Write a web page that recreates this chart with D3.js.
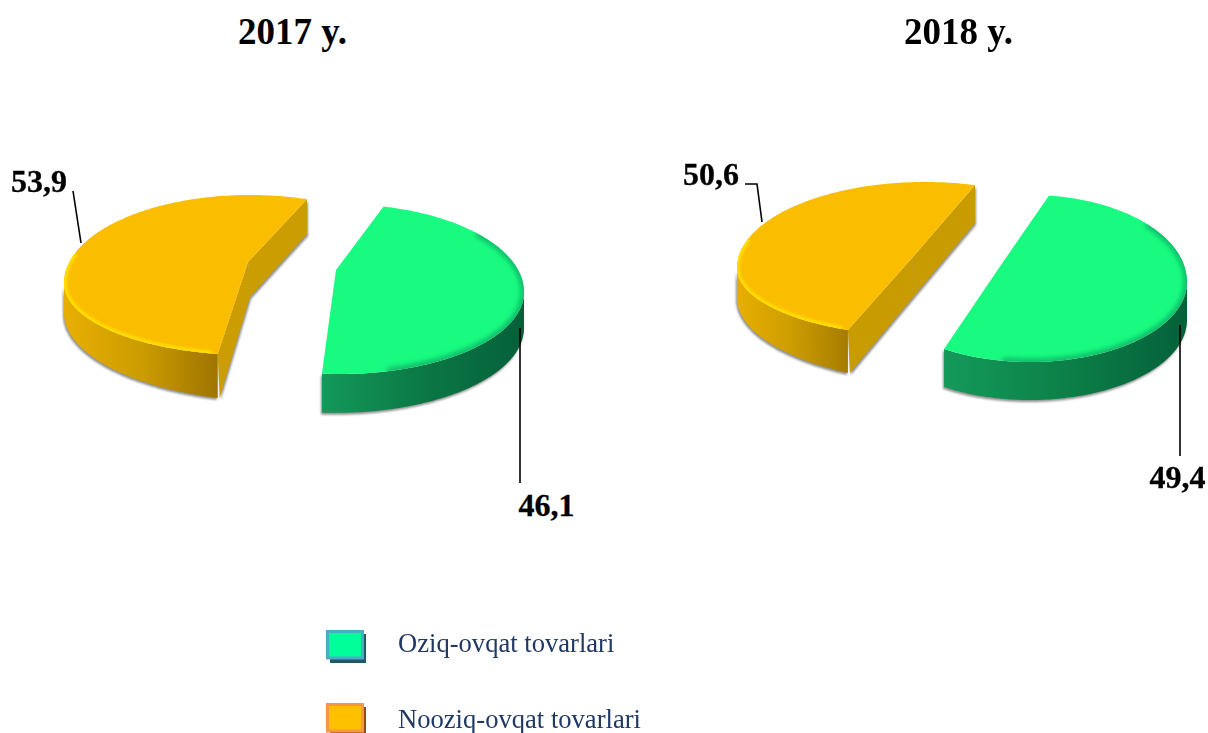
<!DOCTYPE html>
<html><head><meta charset="utf-8">
<script src="https://cdn.jsdelivr.net/npm/d3@7/dist/d3.min.js"></script>
<style>html,body{margin:0;background:#fff}svg{display:block}</style></head>
<body><svg id="c" width="1208" height="733"></svg>
<script>
const categories = ["Oziq-ovqat tovarlari", "Nooziq-ovqat tovarlari"];
const years = ["2017 y.", "2018 y."];
const values2017 = [46.1, 53.9];
const values2018 = [49.4, 50.6];

const deg = Math.PI / 180;
const fmt = d3.formatLocale({decimal: ",", thousands: " ", grouping: [3], currency: ["", ""]}).format(".1f");
const serif = '"Liberation Serif","Times New Roman",serif';
const svg = d3.select("#c");
const defs = svg.append("defs");
defs.append("filter").attr("id", "b3").attr("x", "-20%").attr("y", "-20%").attr("width", "140%").attr("height", "140%")
  .append("feGaussianBlur").attr("stdDeviation", 2.4);
defs.append("filter").attr("id", "b1").attr("x", "-20%").attr("y", "-20%").attr("width", "140%").attr("height", "140%")
  .append("feGaussianBlur").attr("stdDeviation", 1.0);

/* Picture-space layout of each exploded slice (perspective of the original) */
const layouts = [
  { title: {x: 292.5, y: 44},
    slices: [
      {fill: "#19FA80", wall: ["#14995B", "#0B7845", "#05603A"], cx: 340, cy: 292, rx: 184, ryUp: 88, ryDown: 82, rot: 13.7, k: 1.036, apex: [336, 270],
       depthCorner: 39, depthSide: 36, bevel: {color: "#10B266", from: 48, to: 165, width: 6, blur: "b3"},
       label: {x: 546.5, y: 516}, line: [[520, 328], [520, 483]]},
      {fill: "#FBBD00", wall: ["#E8AF00", "#CC9C00", "#9E7400"], cut: "#CB9D00", cx: 250, cy: 283, rx: 186, ryUp: 88, ryDown: 72, rot: 190, k: 0.968, apex: [248, 262],
       depthCorner: 44, depthSide: 30, depthApex: 35, depthEnd: 35, bevel: {color: "#FFDC00", from: 192, to: 290, width: 6, blur: "b1"},
       label: {x: 39, y: 192}, line: [[73, 191], [81, 243]]}
    ]},
  { title: {x: 958.5, y: 44},
    slices: [
      {fill: "#19FA80", wall: ["#149A5B", "#0C8048", "#05603A"], cx: 1030, cy: 282, rx: 157, ryUp: 87, ryDown: 80, rot: 6.9, k: 1.16, apex: [1003, 262],
       depthCorner: 38, depthSide: 38, bevel: {color: "#10B266", from: 48, to: 190, width: 6, blur: "b3"},
       label: {x: 1177.5, y: 488}, line: [[1180, 325], [1180, 456]]},
      {fill: "#FBBD00", wall: ["#E8AF00", "#CC9C00", "#A67C00"], cut: "#C89B00", cx: 925, cy: 268, rx: 188, ryUp: 86, ryDown: 68, rot: 204.2, k: 0.94, apex: [912, 258],
       depthCorner: 43, depthSide: 30, depthApex: 38, depthEnd: 38, bevel: {color: "#FFDC00", from: 206, to: 290, width: 6, blur: "b1"},
       label: {x: 711, y: 185}, line: [[745, 184], [757, 184], [762, 222]]}
    ]}
];

const pie = d3.pie().sort(null).startAngle(0).endAngle(2 * Math.PI);
const line = d3.line();
const poly = pts => line(pts) + "Z";

[values2017, values2018].forEach((vals, ci) => {
  const cfg = layouts[ci];
  const g = svg.append("g");
  g.append("text").text(years[ci]).attr("x", cfg.title.x).attr("y", cfg.title.y)
    .attr("text-anchor", "middle").attr("font-family", serif).attr("font-weight", "bold").attr("font-size", 37).attr("fill", "#000");

  pie(vals).forEach((arc, si) => {
    const s = cfg.slices[si];
    const theta = a => s.rot + s.k * (a - arc.startAngle) / deg;      // picture angle in degrees
    const t0 = theta(arc.startAngle), t1 = theta(arc.endAngle);
    const P = t => {
      const r = t * deg, c = Math.cos(r);
      return [s.cx + s.rx * Math.sin(r), s.cy - (c > 0 ? s.ryUp : s.ryDown) * c];
    };
    const range = (a, b) => d3.range(a, b, 1).concat([b]);
    const arcPts = range(t0, t1).map(P);
    const topPath = poly([s.apex, ...arcPts]);

    // visible rim: the front half of the ellipse
    const w0 = Math.max(t0, 90), w1 = Math.min(t1, 270);
    const cornerT = si === 0 ? t1 : t0, sideT = si === 0 ? 90 : 270;
    const depth = d3.scaleLinear().domain([cornerT, sideT]).range([s.depthCorner, s.depthSide]);
    const rimTop = range(w0, w1).map(P);
    const rimBot = range(w0, w1).map(t => { const p = P(t); return [p[0], p[1] + depth(t)]; });
    const wallPath = poly([...rimTop, ...rimBot.reverse()]);

    const faces = [];
    if (s.cut) {
      const end = P(t1), corner = P(t0);
      const apexB = [s.apex[0] + 2, s.apex[1] + s.depthApex];
      faces.push(poly([end, [end[0], end[1] + s.depthEnd], apexB, s.apex]));
      faces.push(poly([s.apex, apexB, [corner[0] + 2, corner[1] + s.depthCorner], corner]));
    }

    // soft ground shadow
    const sh = g.append("g").attr("filter", "url(#b1)").attr("fill", "#8f8f8f").attr("transform", "translate(-1,2)");
    sh.append("path").attr("d", wallPath);
    faces.forEach(d => sh.append("path").attr("d", d).attr("transform", "translate(2,0)"));

    const xs = rimTop.map(p => p[0]);
    const gid = `w${ci}${si}`;
    const grad = defs.append("linearGradient").attr("id", gid).attr("gradientUnits", "userSpaceOnUse")
      .attr("x1", d3.min(xs)).attr("x2", d3.max(xs)).attr("y1", 0).attr("y2", 0);
    s.wall.forEach((c, i) => grad.append("stop").attr("offset", i / (s.wall.length - 1)).attr("stop-color", c));

    faces.forEach(d => g.append("path").attr("d", d).attr("fill", s.cut));
    g.append("path").attr("d", wallPath).attr("fill", `url(#${gid})`);
    g.append("path").attr("d", topPath).attr("fill", s.fill);

    // bevel along the rim of the top face, clipped to it
    const cid = `t${ci}${si}`;
    defs.append("clipPath").attr("id", cid).append("path").attr("d", topPath);
    g.append("g").attr("clip-path", `url(#${cid})`).append("path")
      .attr("d", line(range(s.bevel.from, s.bevel.to).map(P)))
      .attr("fill", "none").attr("stroke", s.bevel.color).attr("stroke-width", s.bevel.width).attr("filter", `url(#${s.bevel.blur})`);

    g.append("path").attr("d", line(s.line)).attr("fill", "none").attr("stroke", "#000").attr("stroke-width", 1.6);
    g.append("text").text(fmt(arc.data)).attr("x", s.label.x).attr("y", s.label.y)
      .attr("text-anchor", "middle").attr("font-family", serif).attr("font-weight", "bold").attr("font-size", 32)
      .attr("fill", "#000").attr("stroke", "#000").attr("stroke-width", 0.3);
  });
});

/* Legend */
const legendStyles = [
  {fill: "#00FF99", border: "#4BACC6", shadow: "#215868", y: 630, base: 652},
  {fill: "#FFC000", border: "#F79646", shadow: "#984807", y: 703, base: 728}
];
const lg = svg.append("g").selectAll("g").data(categories).join("g");
lg.append("rect").attr("x", 330).attr("y", (d, i) => legendStyles[i].y + 4).attr("width", 36).attr("height", 29)
  .attr("fill", (d, i) => legendStyles[i].shadow);
lg.append("rect").attr("x", 327.5).attr("y", (d, i) => legendStyles[i].y + 1.5).attr("width", 35).attr("height", 26.5)
  .attr("fill", (d, i) => legendStyles[i].fill).attr("stroke", (d, i) => legendStyles[i].border).attr("stroke-width", 3);
lg.append("text").text(d => d).attr("x", 398).attr("y", (d, i) => legendStyles[i].base)
  .attr("font-family", serif).attr("font-size", 26.6).attr("fill", "#1F3864");
</script></body></html>
